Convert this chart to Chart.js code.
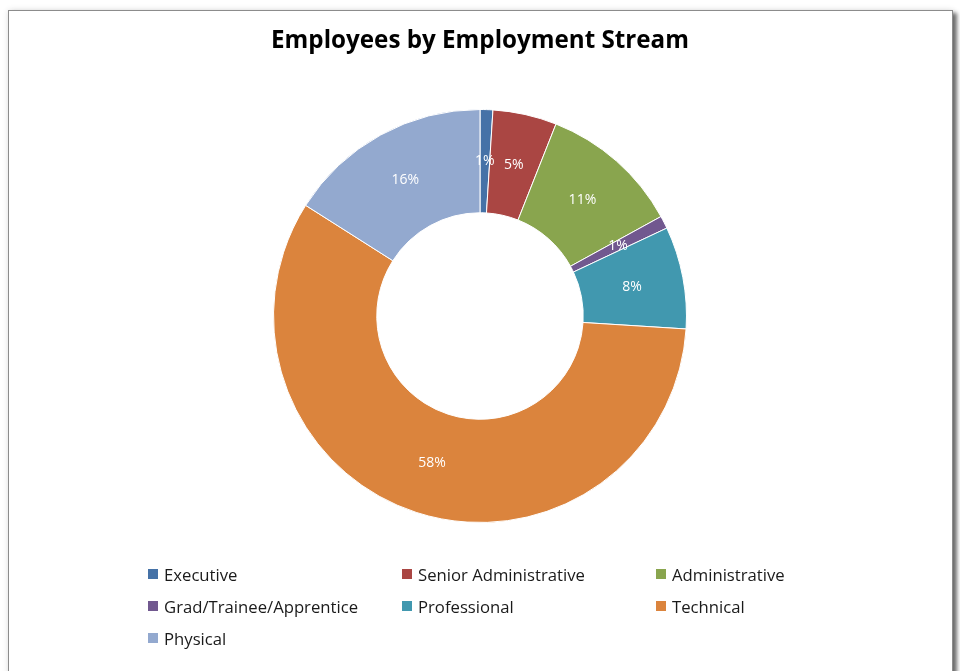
<!DOCTYPE html>
<html>
<head>
<meta charset="utf-8">
<script src="https://cdn.jsdelivr.net/npm/chart.js@4.4.0/dist/chart.umd.min.js"></script>
<style>
  html, body { margin: 0; padding: 0; background: #fff; overflow: hidden; }
  body { width: 960px; height: 671px; position: relative; }
  #frame {
    position: absolute; left: 8px; top: 10px; width: 943px; height: 700px;
    border: 1px solid #8c8c8c; background: #fff;
    box-shadow: 0 0 6px rgba(0,0,0,0.12), 4px 3px 4px rgba(0,0,0,0.55);
  }
  #streams { position: absolute; left: 0; top: 0; }
  #legend {
    position: absolute; left: 148px; top: 562px; width: 780px;
    display: grid; grid-template-columns: 254px 254px 254px; grid-auto-rows: 32px;
    font-family: "Open Sans", sans-serif; font-size: 16.7px; color: #1a1a1a;
  }
  #legend .item { display: flex; align-items: center; height: 24px; }
  #legend .box { width: 10px; height: 10px; margin-right: 6px; flex: none; }
</style>
</head>
<body>
<div id="frame"></div>
<canvas id="streams" width="960" height="671"></canvas>
<div id="legend"></div>
<script>
const streams = ['Executive', 'Senior Administrative', 'Administrative', 'Grad/Trainee/Apprentice', 'Professional', 'Technical', 'Physical'];
const sharePct = [1, 5, 11, 1, 8, 58, 16];
const streamColors = ['#4572A7', '#AA4643', '#89A54E', '#71588F', '#4198AF', '#DB843D', '#93A9CF'];

// white % labels in the middle of each ring segment
const sliceLabels = {
  id: 'sliceLabels',
  afterDatasetsDraw(chart) {
    const ctx = chart.ctx;
    const meta = chart.getDatasetMeta(0);
    ctx.save();
    ctx.font = '14px "Open Sans", sans-serif';
    ctx.fillStyle = '#ffffff';
    ctx.textAlign = 'center';
    ctx.textBaseline = 'middle';
    meta.data.forEach((arc, i) => {
      const mid = (arc.startAngle + arc.endAngle) / 2;
      const r = (arc.innerRadius + arc.outerRadius) / 2;
      ctx.fillText(chart.data.datasets[0].data[i] + '%', arc.x + Math.cos(mid) * r, arc.y + Math.sin(mid) * r);
    });
    ctx.restore();
  }
};

const chart = new Chart(document.getElementById('streams').getContext('2d'), {
  type: 'doughnut',
  data: {
    labels: streams,
    datasets: [{
      data: sharePct,
      backgroundColor: streamColors,
      borderColor: '#ffffff',
      borderWidth: 1
    }]
  },
  options: {
    responsive: false,
    animation: false,
    cutout: '50%',
    layout: { padding: { top: 0, bottom: 148, left: 0, right: 0 } },
    plugins: {
      legend: { display: false },
      tooltip: { enabled: false },
      title: {
        display: true,
        text: 'Employees by Employment Stream',
        color: '#000',
        font: { family: '"Open Sans", sans-serif', size: 24.2, weight: 'bold', lineHeight: 1.1 },
        padding: { top: 28, bottom: 54.4 }
      }
    }
  },
  plugins: [sliceLabels]
});

// legend grid built from the chart's own labels and colours
const legendEl = document.getElementById('legend');
chart.data.labels.forEach((name, i) => {
  const item = document.createElement('div');
  item.className = 'item';
  const box = document.createElement('span');
  box.className = 'box';
  box.style.background = chart.data.datasets[0].backgroundColor[i];
  item.appendChild(box);
  item.appendChild(document.createTextNode(name));
  legendEl.appendChild(item);
});
</script>
</body>
</html>
